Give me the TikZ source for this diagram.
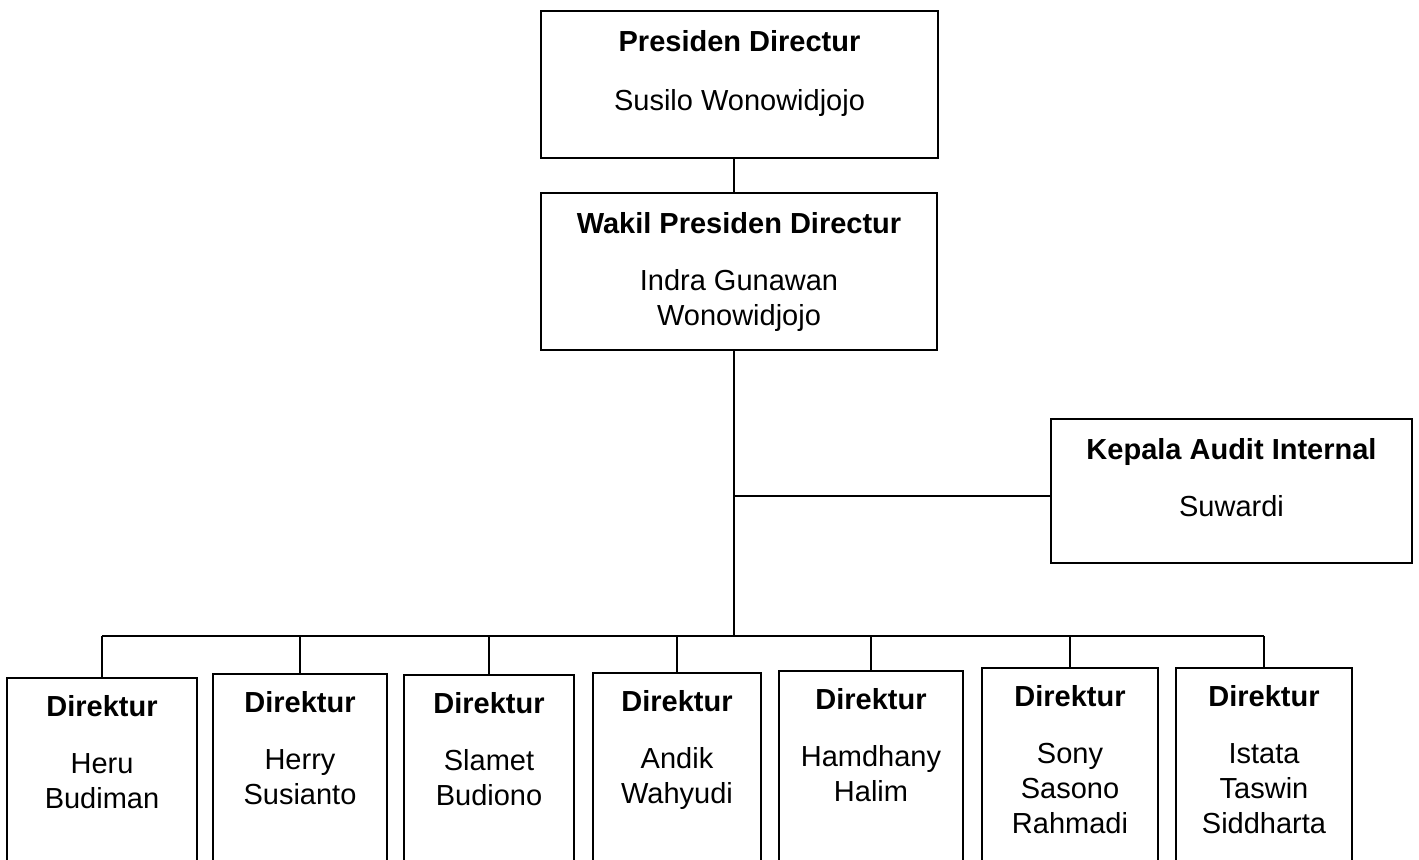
\documentclass[tikz,border=0pt]{standalone}
\usepackage{fontspec}
\setmainfont{Liberation Sans}
\usetikzlibrary{positioning}
\tikzset{
  post/.style={draw,line width=1pt,inner sep=0pt},
  txt/.style={align=center,inner sep=0pt,font=\fontsize{14.5}{17.5}\selectfont},
  link/.style={line width=0.6pt}
}
\begin{document}
\begin{tikzpicture}[x=0.5pt,y=-0.5pt]
  \useasboundingbox (0,0) rectangle (1419,859);
  \clip (0,0) rectangle (1419,859);
  % top management
  \node[post,minimum width=198.5pt,minimum height=73.5pt] (pd) at (739.5,84.5) {};
  \node[txt,below=10pt of pd.north] (pdt) {\textbf{Presiden Directur}\\[12pt]Susilo Wonowidjojo};
  \node[post,minimum width=198pt,minimum height=78.5pt] (wpd) at (739,271.5) {};
  \node[txt,below=10pt of wpd.north] (wpdt) {\textbf{Wakil Presiden Directur}\\[11pt]Indra Gunawan\\Wonowidjojo};
  % internal audit on the side
  \node[post,minimum width=180.5pt,minimum height=72pt] (audit) at (1231.5,491) {};
  \node[txt,below=10pt of audit.north] (auditt) {\textbf{Kepala Audit Internal}\\[11pt]Suwardi};
  % trunk and branch points
  \coordinate (branch) at (734,496);
  \coordinate (bus) at (734,636);
  \draw[link] (pd.south -| bus) -- (wpd.north -| bus);
  \draw[link] (wpd.south -| bus) -- (bus);
  \draw[link] (branch) -- (branch -| audit.west);
  % directors
  \foreach \cx/\w/\t/\nm [count=\i] in {
      102/95/677/{Heru\\Budiman},
      300/87/673/{Herry\\Susianto},
      489/85/674/{Slamet\\Budiono},
      677/84/672/{Andik\\Wahyudi},
      871/92/670/{Hamdhany\\Halim},
      1070/88/667/{Sony\\Sasono\\Rahmadi},
      1264/88/667/{Istata\\Taswin\\Siddharta}} {
    \node[post,anchor=north,minimum width=\w pt,minimum height=125pt] (b\i) at (\cx,\t) {};
    \node[txt,below=9pt of b\i.north] (b\i t) {\textbf{Direktur}\\[11pt]\nm};
    \draw[link] (b\i.north |- bus) -- (b\i.north);
  }
  \draw[link] (b1.north |- bus) -- (b7.north |- bus);
\end{tikzpicture}
\end{document}
